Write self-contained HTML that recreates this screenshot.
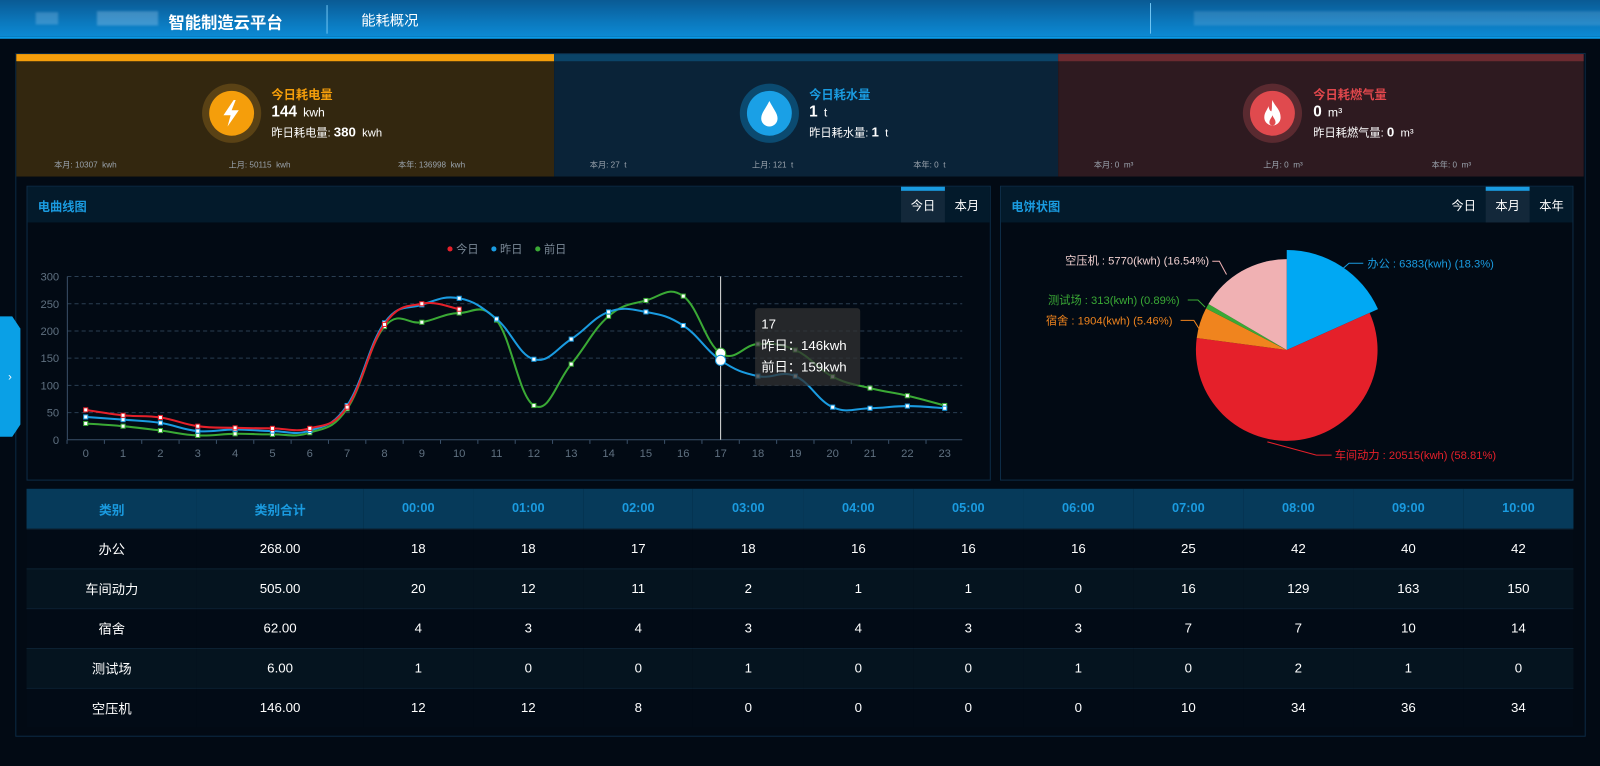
<!DOCTYPE html>
<html><head><meta charset="utf-8">
<style>
*{margin:0;padding:0;box-sizing:border-box}
body{width:1600px;height:751px;background:#020a14;font-family:"Liberation Sans","Noto Sans CJK SC",sans-serif;color:#fff;position:relative;overflow:hidden}
#w{position:absolute;left:0;top:0;width:1568px;height:736px;transform:scale(1.020408);transform-origin:0 0}
.hdr{position:absolute;left:0;top:0;width:1600px;height:38px;background:linear-gradient(180deg,#0a5a94 0%,#0b78bd 60%,#0c8ad4 100%);border-bottom:2px solid #0a9be8}
.abs{position:absolute}
.blur{position:absolute;background:rgba(170,210,240,.55);filter:blur(1px)}
.frame{position:absolute;left:15px;top:52px;width:1539px;height:670px;border:1px solid #0c2a44}
.card{position:absolute;top:53px;height:120px}
.card .bar{position:absolute;left:0;top:0;width:100%;height:7px}
.ic{position:absolute;width:58px;height:58px;border-radius:50%}
.ic div{position:absolute;left:7px;top:7px;width:44px;height:44px;border-radius:50%}
.t1{position:absolute;font-size:12px;font-weight:bold}
.t2{position:absolute;font-size:15px;font-weight:bold;color:#fff}
.t2 span{font-size:12px;font-weight:normal;margin-left:6px}
.t3{position:absolute;font-size:11px;color:#fff}
.t3 b{font-size:13px}
.sm{position:absolute;top:156px;font-size:8px;color:#9aa3ad}
.panel{position:absolute;top:182px;height:289px;border:1px solid #0d2c46;background:#020a14}
.ph{position:absolute;left:0;top:0;width:100%;height:35px;background:#031a2b}
.ph .tt{position:absolute;left:10px;top:11px;font-size:12px;font-weight:bold;color:#1a9be0}
.tab{position:absolute;top:0;height:35px;font-size:12px;line-height:38px;text-align:center;color:#fff}
.tab.on{background:#13283a;border-top:4px solid #1a9be0;line-height:30px}
table{position:absolute;left:26px;top:479px;width:1516px;border-collapse:collapse;table-layout:fixed;font-size:13px}
th{height:39px;background:#063a5a;color:#1a9be0;font-weight:bold;font-size:12.5px}
td{height:39px;text-align:center;border-top:1px solid #0c2233}
tr:nth-child(odd) td{background:#05141f}
tr:nth-child(even) td{background:#020b16}
</style></head><body>
<div id="w">
<div class="hdr"></div>
<div class="blur" style="left:35px;top:12px;width:22px;height:12px;opacity:.5"></div>
<div class="blur" style="left:95px;top:11px;width:60px;height:14px;opacity:.6"></div>
<div class="abs" style="left:165px;top:9px;font-size:16px;font-weight:bold">智能制造云平台</div>
<div class="abs" style="left:320px;top:5px;width:1px;height:28px;background:#6fc4f2"></div>
<div class="abs" style="left:354px;top:10px;font-size:14px">能耗概况</div>
<div class="abs" style="left:1127px;top:3px;width:1px;height:30px;background:#6fc4f2"></div>
<div class="blur" style="left:1170px;top:11px;width:420px;height:14px;opacity:.35"></div>

<div class="frame"></div>
<svg class="abs" style="left:0;top:308px" width="22" height="122"><polygon points="0,2 12,2 20,14 20,108 12,120 0,120" fill="#0aa0e6"/><text x="8" y="65" font-size="11" fill="#fff" font-family="Liberation Sans">›</text></svg>

<div class="card" style="left:16px;width:527px;background:#33270f"><div class="bar" style="background:#f59e0b"></div></div>
<div class="card" style="left:543px;width:494px;background:#0a2338"><div class="bar" style="background:#0b4468"></div></div>
<div class="card" style="left:1037px;width:515px;background:#2e1a20"><div class="bar" style="background:#6b2a30"></div></div>

<div class="ic" style="left:198px;top:82px;background:#5a4215"><div style="background:#f59e0b"></div></div>
<svg class="abs" style="left:214px;top:96px" width="26" height="30"><polygon points="15,2 5,17 12,17 9,28 20,12 13,12 17,2" fill="#fff"/></svg>
<div class="t1" style="left:266px;top:84px;color:#f59e0b">今日耗电量</div>
<div class="t2" style="left:266px;top:101px">144<span>kwh</span></div>
<div class="t3" style="left:266px;top:122px">昨日耗电量: <b>380</b> &nbsp;kwh</div>
<div class="sm" style="left:53px">本月: 10307 &nbsp;kwh</div>
<div class="sm" style="left:224px">上月: 50115 &nbsp;kwh</div>
<div class="sm" style="left:390px">本年: 136998 &nbsp;kwh</div>

<div class="ic" style="left:725px;top:82px;background:#0b4a70"><div style="background:#1aa0e6"></div></div>
<svg class="abs" style="left:743px;top:96px" width="22" height="30"><path d="M11,3 C7,11 3,15 3,20 A8,8 0 0 0 19,20 C19,15 15,11 11,3Z" fill="#fff"/></svg>
<div class="t1" style="left:793px;top:84px;color:#1a9be0">今日耗水量</div>
<div class="t2" style="left:793px;top:101px">1<span>t</span></div>
<div class="t3" style="left:793px;top:122px">昨日耗水量: <b>1</b> &nbsp;t</div>
<div class="sm" style="left:578px">本月: 27 &nbsp;t</div>
<div class="sm" style="left:737px">上月: 121 &nbsp;t</div>
<div class="sm" style="left:895px">本年: 0 &nbsp;t</div>

<div class="ic" style="left:1218px;top:82px;background:#5a2a30"><div style="background:#e04a4e"></div></div>
<svg class="abs" style="left:1235px;top:95px" width="24" height="32"><path d="M12,3 C14,9 20,12 20,20 A8,8 0 0 1 4,20 C4,15 7,13 8,9 C9,13 10,14 11,14 C12,10 11,7 12,3Z" fill="#fff"/><path d="M12,18 C13,21 15,22 15,25 A3,3 0 0 1 9,25 C9,22 11,21 12,18Z" fill="#e04a4e"/></svg>
<div class="t1" style="left:1287px;top:84px;color:#e0474c">今日耗燃气量</div>
<div class="t2" style="left:1287px;top:101px">0<span>m³</span></div>
<div class="t3" style="left:1287px;top:122px">昨日耗燃气量: <b>0</b> &nbsp;m³</div>
<div class="sm" style="left:1072px">本月: 0 &nbsp;m³</div>
<div class="sm" style="left:1238px">上月: 0 &nbsp;m³</div>
<div class="sm" style="left:1403px">本年: 0 &nbsp;m³</div>

<div class="panel" style="left:26px;width:945px">
 <div class="ph"><div class="tt">电曲线图</div>
 <div class="tab on" style="left:856px;width:43px">今日</div><div class="tab" style="left:899px;width:43px">本月</div></div>
</div>
<div class="panel" style="left:980px;width:562px">
 <div class="ph"><div class="tt">电饼状图</div>
 <div class="tab" style="left:432px;width:43px">今日</div><div class="tab on" style="left:475px;width:43px">本月</div><div class="tab" style="left:518px;width:43px">本年</div></div>
</div>

<svg class="abs" style="left:0;top:0" width="1600" height="751" id="ch" font-family="Liberation Sans,Noto Sans CJK SC,sans-serif">
</svg>

<table>
<colgroup><col style="width:167px"><col style="width:163px"><col span="11"></colgroup>
<tr><th>类别</th><th>类别合计</th><th>00:00</th><th>01:00</th><th>02:00</th><th>03:00</th><th>04:00</th><th>05:00</th><th>06:00</th><th>07:00</th><th>08:00</th><th>09:00</th><th>10:00</th></tr>
<tr><td>办公</td><td>268.00</td><td>18</td><td>18</td><td>17</td><td>18</td><td>16</td><td>16</td><td>16</td><td>25</td><td>42</td><td>40</td><td>42</td></tr>
<tr><td>车间动力</td><td>505.00</td><td>20</td><td>12</td><td>11</td><td>2</td><td>1</td><td>1</td><td>0</td><td>16</td><td>129</td><td>163</td><td>150</td></tr>
<tr><td>宿舍</td><td>62.00</td><td>4</td><td>3</td><td>4</td><td>3</td><td>4</td><td>3</td><td>3</td><td>7</td><td>7</td><td>10</td><td>14</td></tr>
<tr><td>测试场</td><td>6.00</td><td>1</td><td>0</td><td>0</td><td>1</td><td>0</td><td>0</td><td>1</td><td>0</td><td>2</td><td>1</td><td>0</td></tr>
<tr><td>空压机</td><td>146.00</td><td>12</td><td>12</td><td>8</td><td>0</td><td>0</td><td>0</td><td>0</td><td>10</td><td>34</td><td>36</td><td>34</td></tr>
</table>
</div>

<script>
var s='';
function X(i){return 84+i*36.6}
function Y(v){return 431-v*160/300}
for(var k=0;k<=6;k++){var y=Y(k*50);
 if(k>0)s+='<line x1="66" y1="'+y+'" x2="943" y2="'+y+'" stroke="#2a3e52" stroke-dasharray="4,3"/>';
 s+='<text x="58" y="'+(y+4)+'" font-size="11" fill="#5f7080" text-anchor="end">'+(k*50)+'</text>';}
s+='<line x1="66" y1="271" x2="66" y2="431" stroke="#3a5068"/><line x1="66" y1="431" x2="943" y2="431" stroke="#3a5068"/>';
for(var i=0;i<24;i++){s+='<text x="'+X(i)+'" y="448" font-size="11" fill="#5f7080" text-anchor="middle">'+i+'</text>';
 s+='<line x1="'+(X(i)-18.3)+'" y1="431" x2="'+(X(i)-18.3)+'" y2="435" stroke="#3a5068"/>';}
s+='<circle cx="441" cy="244" r="2.5" fill="#e5202a"/><text x="447" y="248" font-size="11" fill="#7a8896">今日</text>';
s+='<circle cx="484" cy="244" r="2.5" fill="#1a9be0"/><text x="490" y="248" font-size="11" fill="#7a8896">昨日</text>';
s+='<circle cx="527" cy="244" r="2.5" fill="#3aa935"/><text x="533" y="248" font-size="11" fill="#7a8896">前日</text>';
function path(d){var p=d.map(function(v,i){return [X(i),Y(v)]});var o='M'+p[0][0]+','+p[0][1];
 for(var i=0;i<p.length-1;i++){var a=p[i-1]||p[i],b=p[i],c=p[i+1],e=p[i+2]||c;var t=0.2;
  o+=' C'+(b[0]+(c[0]-a[0])*t)+','+(b[1]+(c[1]-a[1])*t)+' '+(c[0]-(e[0]-b[0])*t)+','+(c[1]-(e[1]-b[1])*t)+' '+c[0]+','+c[1];}
 return o}
var G=[30,25,17,8,11,10,13,57,208,216,233,220,63,139,227,256,264,159,176,165,116,95,81,63];
var B=[42,37,31,16,19,16,17,63,215,248,260,222,148,185,235,235,210,146,117,117,60,58,62,58];
var R=[55,45,41,25,22,21,21,60,212,250,240];
[[G,'#3aa935'],[B,'#1a9be0'],[R,'#e5202a']].forEach(function(q){
 s+='<path d="'+path(q[0])+'" fill="none" stroke="'+q[1]+'" stroke-width="2"/>';
 q[0].forEach(function(v,i){s+='<rect x="'+(X(i)-2)+'" y="'+(Y(v)-2)+'" width="4" height="4" fill="#fff" stroke="'+q[1]+'" stroke-width="1"/>'});});
s+='<line x1="'+X(17)+'" y1="271" x2="'+X(17)+'" y2="431" stroke="#ddd" stroke-width="1"/>';
s+='<circle cx="'+X(17)+'" cy="'+Y(159)+'" r="5" fill="#fff" stroke="#3aa935"/><circle cx="'+X(17)+'" cy="'+Y(146)+'" r="5" fill="#fff" stroke="#1a9be0"/>';
s+='<rect x="740" y="302" width="103" height="76" rx="3" fill="rgba(50,50,50,0.75)"/>';
s+='<text x="746" y="322" font-size="13" fill="#fff">17</text><text x="746" y="343" font-size="13" fill="#fff">昨日：146kwh</text><text x="746" y="364" font-size="13" fill="#fff">前日：159kwh</text>';
var cx=1261,cy=343;var sl=[[18.3,'#00a8f3',98],[58.81,'#e5202a',89],[5.46,'#f0841e',89],[0.89,'#3aa935',89],[16.54,'#f0b1b3',89]];
var a0=-90;sl.forEach(function(q){var a1=a0+q[0]*3.6;var r=q[2];
 function P(a){return [cx+r*Math.cos(a*Math.PI/180),cy+r*Math.sin(a*Math.PI/180)]}
 var p0=P(a0),p1=P(a1);s+='<path d="M'+cx+','+cy+' L'+p0[0]+','+p0[1]+' A'+r+','+r+' 0 '+(q[0]>50?1:0)+' 1 '+p1[0]+','+p1[1]+'Z" fill="'+q[1]+'"/>';a0=a1;});
s+='<polyline points="1314,265 1322,258 1336,258" fill="none" stroke="#1a9be0"/><text x="1340" y="262" font-size="11" fill="#1a9be0">办公 : 6383(kwh) (18.3%)</text>';
s+='<polyline points="1242,433 1290,446 1305,446" fill="none" stroke="#e5202a"/><text x="1308" y="450" font-size="11" fill="#e5202a">车间动力 : 20515(kwh) (58.81%)</text>';
s+='<polyline points="1175,322 1170,314 1157,314" fill="none" stroke="#f0841e"/><text x="1149" y="318" font-size="11" fill="#f0841e" text-anchor="end">宿舍 : 1904(kwh) (5.46%)</text>';
s+='<polyline points="1181,301 1174,294 1164,294" fill="none" stroke="#3aa935"/><text x="1156" y="298" font-size="11" fill="#3aa935" text-anchor="end">测试场 : 313(kwh) (0.89%)</text>';
s+='<polyline points="1202,269 1195,256 1188,256" fill="none" stroke="#f0b1b3"/><text x="1185" y="259" font-size="11" fill="#f0d0d0" text-anchor="end">空压机 : 5770(kwh) (16.54%)</text>';
document.getElementById('ch').innerHTML=s;
</script>
</body></html>
